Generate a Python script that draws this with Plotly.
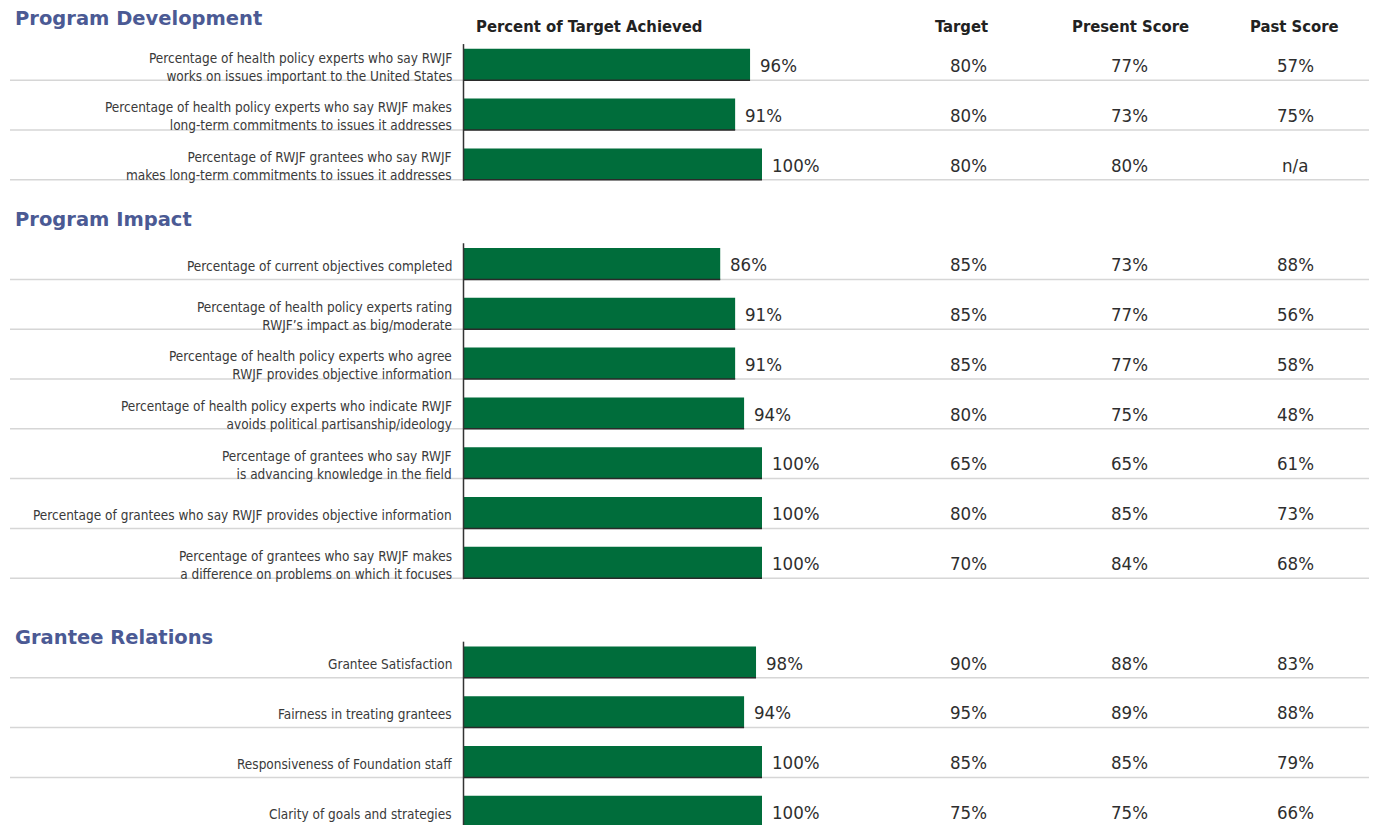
import plotly.graph_objects as go

section_names = ["Program Development", "Program Impact", "Grantee Relations"]
section_sizes = [3, 7, 4]

labels = [
    "Percentage of health policy experts who say RWJF<br>works on issues important to the United States",
    "Percentage of health policy experts who say RWJF makes<br>long-term commitments to issues it addresses",
    "Percentage of RWJF grantees who say RWJF<br>makes long-term commitments to issues it addresses",
    "Percentage of current objectives completed",
    "Percentage of health policy experts rating<br>RWJF’s impact as big/moderate",
    "Percentage of health policy experts who agree<br>RWJF provides objective information",
    "Percentage of health policy experts who indicate RWJF<br>avoids political partisanship/ideology",
    "Percentage of grantees who say RWJF<br>is advancing knowledge in the field",
    "Percentage of grantees who say RWJF provides objective information",
    "Percentage of grantees who say RWJF makes<br>a difference on problems on which it focuses",
    "Grantee Satisfaction",
    "Fairness in treating grantees",
    "Responsiveness of Foundation staff",
    "Clarity of goals and strategies",
]
achieved = [96, 91, 100, 86, 91, 91, 94, 100, 100, 100, 98, 94, 100, 100]
target = [80, 80, 80, 85, 85, 85, 80, 65, 80, 70, 90, 95, 85, 75]
present = [77, 73, 80, 73, 77, 77, 75, 65, 85, 84, 88, 89, 85, 75]
past = [57, 75, None, 88, 56, 58, 48, 61, 73, 68, 83, 88, 79, 66]

bar_title = "Percent of Target Achieved"
column_titles = ["Target", "Present Score", "Past Score"]

# page body has an 8px margin, so the figure is shrunk and everything shifted by it
OFF = 8
W, H = 1377 - OFF, 825 - OFF
GREEN = "#006D3B"
TEXT = "#2E2E2E"
BLUE = "#4B5A94"
NARROW = "Liberation Sans Narrow, Arial Narrow, DejaVu Sans Condensed, sans-serif"


def px(x):
    return (x - OFF) / W


# row slots: one empty slot between sections
slots, starts = [], []
pos = 0
for n in section_sizes:
    starts.append(pos)
    slots.extend(range(pos, pos + n))
    pos += n + 1

# pixel geometry (reference pixels)
PITCH, FIRST = 49.8, 64.5 - OFF
X0, X100 = 463.5 - OFF, 762.0 - OFF
px_per = (X100 - X0) / 100
yrange = [(H - FIRST) / PITCH, -FIRST / PITCH]
xrange = [-X0 / px_per, (W - X0) / px_per]
BAR_W = 0.63

fig = go.Figure(go.Bar(
    x=achieved,
    y=slots,
    orientation="h",
    width=BAR_W,
    marker=dict(color=GREEN, line=dict(width=0)),
    hoverinfo="skip",
))

shapes = []
for s, v in zip(slots, achieved):
    yb = s + BAR_W / 2
    shapes.append(dict(type="line", xref="paper", yref="y", x0=px(10), x1=1,
                       y0=yb, y1=yb, line=dict(color="#D6D6D6", width=1.5), layer="below"))
    # dark edge under each bar
    shapes.append(dict(type="line", xref="x", yref="y", x0=0, x1=v,
                       y0=yb, y1=yb, line=dict(color="#2A2A2A", width=1.5)))
for st, n in zip(starts, section_sizes):
    shapes.append(dict(type="line", xref="x", yref="y", x0=0, x1=0,
                       y0=st - 0.41, y1=st + n - 1 + BAR_W / 2 + 0.02,
                       line=dict(color="#333333", width=1.5)))

ann = []
for s, lab, v in zip(slots, labels, achieved):
    ann.append(dict(x=px(454), xref="paper", y=s, yref="y", text=lab, showarrow=False,
                    xanchor="right", yanchor="middle", align="right", yshift=-2,
                    font=dict(family=NARROW, size=13.5, color="#3A3A3A")))
    ann.append(dict(x=v, xref="x", y=s, yref="y", text=f"{v}%", showarrow=False,
                    xanchor="left", yanchor="middle", xshift=8, yshift=-1,
                    font=dict(family=NARROW, size=18.5, color=TEXT)))

col_x = [968, 1129, 1295]
for cx, vals in zip(col_x, [target, present, past]):
    for s, v in zip(slots, vals):
        ann.append(dict(x=px(cx), xref="paper", y=s, yref="y",
                        text="n/a" if v is None else f"{v}%", showarrow=False,
                        xanchor="center", yanchor="middle", yshift=-1,
                        font=dict(family=NARROW, size=18.5, color=TEXT)))

head_y = -0.773
ann.append(dict(x=px(474), xref="paper", y=head_y, yref="y", text=f"<b>{bar_title}</b>",
                showarrow=False, xanchor="left", yanchor="middle",
                font=dict(family=NARROW, size=16.5, color="#222222")))
for cx, t in zip([961, 1130, 1294], column_titles):
    ann.append(dict(x=px(cx), xref="paper", y=head_y, yref="y", text=f"<b>{t}</b>",
                    showarrow=False, xanchor="center", yanchor="middle",
                    font=dict(family=NARROW, size=16.5, color="#222222")))

head_off = [0.93, 0.89, 0.49]
for st, name, off in zip(starts, section_names, head_off):
    ann.append(dict(x=px(13), xref="paper", y=st - off, yref="y", text=f"<b>{name}</b>",
                    showarrow=False, xanchor="left", yanchor="middle",
                    font=dict(family="DejaVu Sans", size=19.5, color=BLUE)))

fig.update_layout(
    width=W, height=H,
    margin=dict(l=0, r=0, t=0, b=0),
    paper_bgcolor="white", plot_bgcolor="white",
    showlegend=False,
    xaxis=dict(range=xrange, visible=False, fixedrange=True),
    yaxis=dict(range=yrange, visible=False, fixedrange=True),
    shapes=shapes,
    annotations=ann,
)

fig.write_html("out.html")
